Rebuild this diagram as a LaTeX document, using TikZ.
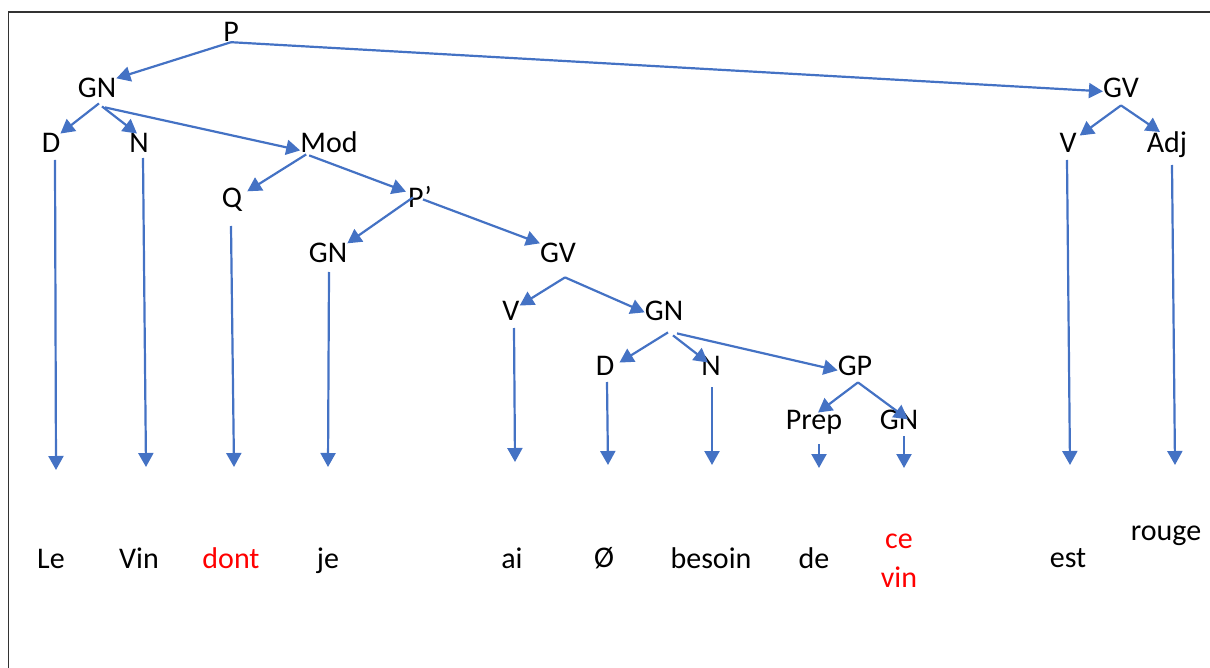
\documentclass[tikz,border=0pt]{standalone}
\usepackage{fontspec}
\setmainfont{Carlito}
\usepackage{xcolor}
\usepackage{tikz}
\usetikzlibrary{arrows.meta}
\definecolor{wordblue}{HTML}{4472C4}

\begin{document}
\begin{tikzpicture}[x=1pt, y=-1pt,
    cat/.style={inner sep=0pt, anchor=base, font=\fontsize{30}{36}\selectfont},
    word/.style={cat},
    arr/.style={-{Triangle[length=14pt,width=15pt]}, draw=wordblue, line width=2.2pt}]
    \useasboundingbox (0,0) rectangle (1210,668);
    % frame
    \draw[line width=1.3pt, black!80] (8.5,668) -- (8.5,12) -- (1210,12);

    % categories
    \node[cat] (p) at (231,42) {P};
    \node[cat] (gn) at (97,98) {GN};
    \node[cat] (gv) at (1121,98) {GV};
    \node[cat] (d) at (51,153) {D};
    \node[cat] (n) at (139,153) {N};
    \node[cat] (mod) at (329,153) {Mod};
    \node[cat] (v) at (1068,153) {V};
    \node[cat] (adj) at (1167,153) {Adj};
    \node[cat] (q) at (232,208) {Q};
    \node[cat] (pp) at (420,208) {P’};
    \node[cat] (gnb) at (328,263) {GN};
    \node[cat] (gvb) at (558,263) {GV};
    \node[cat] (vb) at (511,320) {V};
    \node[cat] (gnc) at (664,320) {GN};
    \node[cat] (dc) at (605,375) {D};
    \node[cat] (nc) at (711,375) {N};
    \node[cat] (gp) at (855,375) {GP};
    \node[cat] (prep) at (814,429) {Prep};
    \node[cat] (gnd) at (899,429) {GN};

    % words
    \node[word] (le) at (51,568) {Le};
    \node[word] (vin) at (139,568) {Vin};
    \node[word, text=red] (dont) at (231,568) {dont};
    \node[word] (je) at (328,568) {je};
    \node[word] (ai) at (512,568) {ai};
    \node[word] (vide) at (604,567) {Ø};
    \node[word] (besoin) at (711,568) {besoin};
    \node[word] (de) at (814,568) {de};
    \node[word, text=red, align=center, font=\fontsize{30}{39}\selectfont] (cevin) at (899,587) {ce\\vin};
    \node[word] (est) at (1068,567) {est};
    \node[word] (rouge) at (1166,540) {rouge};

    % arrow ends above the words
    \coordinate (tle) at (56,470);
    \coordinate (tvin) at (146,467);
    \coordinate (tdont) at (234,467);
    \coordinate (tje) at (328,467);
    \coordinate (tai) at (515,462);
    \coordinate (tvide) at (608,465);
    \coordinate (tbesoin) at (712,465);
    \coordinate (tde) at (819,468);
    \coordinate (tcevin) at (904,468);
    \coordinate (test) at (1070,465);
    \coordinate (trouge) at (1175,465);

    \draw[arr] (p.south) -- (gn.north east);
    \draw[arr] (p.south) -- ([yshift=-3]gv.west);
    \draw[arr] ([xshift=2,yshift=-5]gn.south) -- (d.north east);
    \draw[arr] ([xshift=5,yshift=-8]gn.south) -- ([xshift=-2]n.north);
    \draw[arr] ([xshift=8,yshift=-9]gn.south) -- ([yshift=3]mod.south west);
    \draw[arr] ([xshift=6,yshift=-1]mod.south west) -- ([xshift=5,yshift=-3]q.north east);
    \draw[arr] ([xshift=9,yshift=-2]mod.south west) -- ([xshift=-2,yshift=-5]pp.north west);
    \draw[arr] ([xshift=-7]pp.center) -- (gnb.north east);
    \draw[arr] ([xshift=3,yshift=-2]pp.center) -- (gvb.north west);
    \draw[arr] ([xshift=7,yshift=-14]gvb.south) -- ([yshift=-5]vb.north east);
    \draw[arr] ([xshift=7,yshift=-14]gvb.south) -- ([yshift=-2]gnc.west);
    \draw[arr] ([xshift=4,yshift=-12]gnc.south) -- ([xshift=5,yshift=-7]dc.north east);
    \draw[arr] ([xshift=9,yshift=-15]gnc.south) -- ([xshift=-3,yshift=-7]nc.north);
    \draw[arr] ([xshift=13,yshift=-13]gnc.south) -- ([yshift=5]gp.south west);
    \draw[arr] ([xshift=3,yshift=-7]gp.south) -- ([xshift=4,yshift=-3]prep.north);
    \draw[arr] ([xshift=3,yshift=-7]gp.south) -- ([xshift=9,yshift=-10]gnd.north);
    \draw[arr] ([yshift=-7]gv.south) -- ([xshift=3,yshift=-2]v.north east);
    \draw[arr] ([yshift=-7]gv.south) -- ([xshift=-7]adj.north);

    \draw[arr] ([xshift=4,yshift=-7]d.base) -- (tle);
    \draw[arr] ([xshift=4,yshift=-5]n.base) -- (tvin);
    \draw[arr] ([xshift=-1,yshift=-18]q.base) -- (tdont);
    \draw[arr] ([xshift=1,yshift=-9]gnb.base) -- (tje);
    \draw[arr] ([xshift=3,yshift=-8]vb.base) -- (tai);
    \draw[arr] ([xshift=2,yshift=-7]dc.base) -- (tvide);
    \draw[arr] ([xshift=1,yshift=-12]nc.base) -- (tbesoin);
    \draw[arr] ([xshift=5,yshift=-15]prep.base) -- (tde);
    \draw[arr] ([xshift=5,yshift=-7]gnd.base) -- (tcevin);
    \draw[arr] ([xshift=-1,yshift=-7]v.base) -- (test);
    \draw[arr] ([xshift=5,yshift=-12]adj.base) -- (trouge);
\end{tikzpicture}
\end{document}
